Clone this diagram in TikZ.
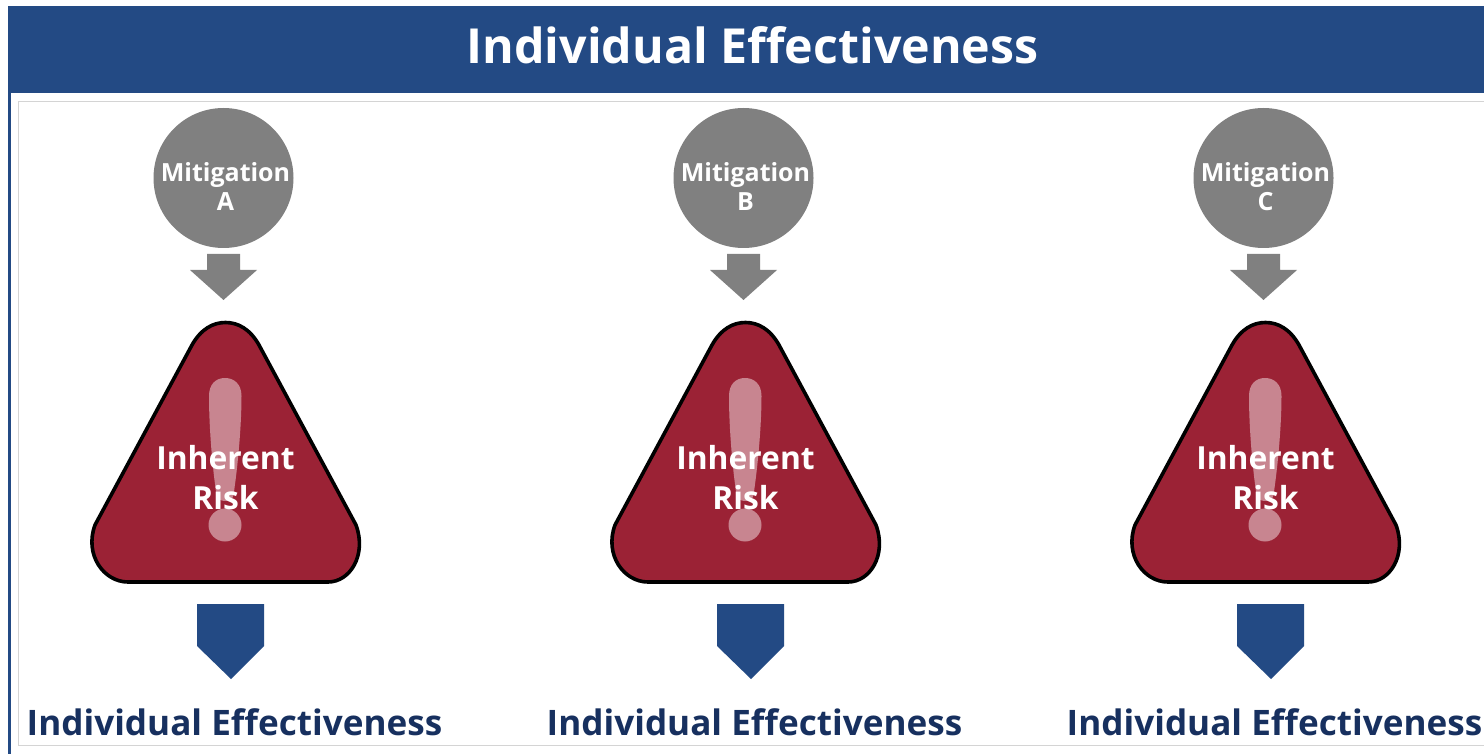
\documentclass[tikz,border=0pt]{standalone}
\usepackage{fontspec}
\setmainfont{Open Sans}
\definecolor{hdrblue}{HTML}{234A84}
\definecolor{navytext}{HTML}{17305F}
\definecolor{riskred}{HTML}{9B2235}
\definecolor{mitgray}{HTML}{808080}
\definecolor{framegray}{HTML}{D4D4D4}
\tikzset{
  titletext/.style={font=\fontsize{48.3}{52}\bfseries\selectfont,text=white,inner sep=0pt,anchor=base},
  labeltext/.style={font=\fontsize{35.1}{38}\bfseries\selectfont,text=navytext,inner sep=0pt,anchor=base},
  mitcircle/.style={circle,fill=mitgray,minimum size=140pt,inner sep=0pt},
  mittext/.style={font=\fontsize{25}{29}\bfseries\selectfont,text=white,inner sep=0pt,anchor=base},
  risktext/.style={font=\fontsize{31.8}{39}\bfseries\selectfont,text=white,inner sep=0pt,anchor=base},
  grayarrow/.style={fill=mitgray},
  bluearrow/.style={fill=hdrblue},
  risktri/.style={fill=riskred,draw=black,line width=3.6pt,line join=round},
  bang/.style={fill=white,fill opacity=0.45},
}
\begin{document}
\begin{tikzpicture}[x=1pt,y=-1pt]
\useasboundingbox (0,0) rectangle (1484,754);
\fill[white] (0,0) rectangle (1484,754);
\fill[hdrblue] (8,6) rectangle (1484,93);
\fill[hdrblue] (8,93) rectangle (11,754);
\draw[framegray,line width=1pt] (1484,102) -- (18.5,102) -- (18.5,745) -- (1484,745);
\node[titletext] (title) at (752.5,64) {Individual Effectiveness};
\foreach \n/\L/\dx in {a/A/0,b/B/520,c/C/1040}{
  \begin{scope}[xshift=\dx pt]
    \node[mitcircle] (mit\n) at (223.5,178) {};
    \node[mittext] (mit\n1) at (225.5,181.5) {Mitigation};
    \node[mittext] (mit\n2) at (225.5,210.5) {\L};
    \fill[grayarrow] (207,254) -- (240,254) -- (240,270) -- (257,270) -- (223.5,300) -- (190,270) -- (207,270) -- cycle;
    \path[risktri] (128,582) -- (328,582)
      .. controls (350,582) and (367,555) .. (356,525)
      -- (259,345)
      .. controls (250,329) and (238,322.5) .. (225.5,322.5)
      .. controls (213,322.5) and (201,329) .. (192,345)
      -- (95,525)
      .. controls (84,555) and (104,582) .. (128,582) -- cycle;
    \path[bang] (209,396)
      .. controls (209,384) and (216,378) .. (225,378)
      .. controls (234,378) and (241.5,384) .. (241.5,396)
      .. controls (241.5,425) and (238,465) .. (233.5,495)
      .. controls (232.5,503) and (217.5,503) .. (216.5,495)
      .. controls (212,465) and (209,425) .. (209,396) -- cycle;
    \path[bang] (225,525) circle[radius=16.5];
    \node[risktext] (risk\n1) at (225.5,469.5) {Inherent};
    \node[risktext] (risk\n2) at (225.5,509) {Risk};
    \fill[bluearrow] (197,604) -- (264,604) -- (264,646) -- (231,679) -- (197,646) -- cycle;
    \node[labeltext] (lab\n) at (234.5,735) {Individual Effectiveness};
  \end{scope}
}
\end{tikzpicture}
\end{document}
